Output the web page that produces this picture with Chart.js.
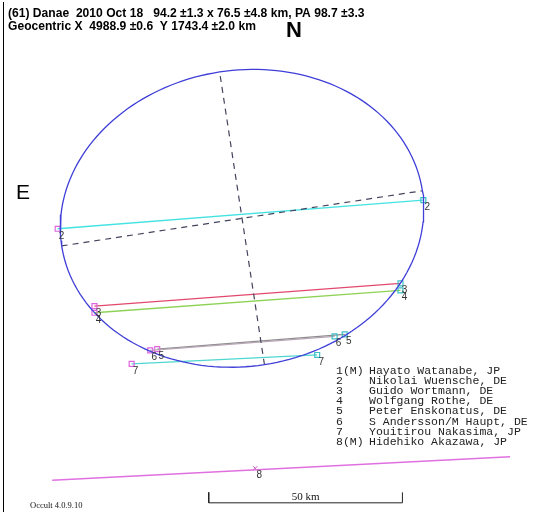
<!DOCTYPE html>
<html>
<head>
<meta charset="utf-8">
<script src="https://cdn.jsdelivr.net/npm/chart.js@4.4.1/dist/chart.umd.min.js"></script>
<style>
  html, body { margin: 0; padding: 0; background: #fff; }
  canvas { display: block; }
</style>
</head>
<body>
<canvas id="profile" width="538" height="517"></canvas>
<script>
// fitted profile (km, PA in degrees)
const majorKm = 94.2;
const minorKm = 76.5;
const positionAngle = 98.7;

// chords in km relative to the centre of the fitted ellipse (x to the right, y up)
const chordIds = ['2', '3', '4', '6', '5', '7'];
const chordStartX = [-47.6, -38.1, -38.1, -23.7, -21.9, -28.5];
const chordStartY = [-2.7, -22.7, -24.4, -34.1, -33.8, -37.6];
const chordEndX = [46.8, 40.9, 40.9, 23.9, 26.5, 19.4];
const chordEndY = [4.7, -16.8, -18.6, -30.5, -30.0, -35.3];
const chordColors = ['#45e2e2', '#e2486e', '#8ed255', '#b6a6b6', '#8c8c8c', '#4fd6d0'];

// miss chord of observer 8
const missX = [-49.0, 69.2];
const missY = [-67.7, -61.6];
const missMarkX = [3.4];
const missMarkY = [-64.6];

// observers listed at the right
const observerIds = ['1(M)', '2', '3', '4', '5', '6', '7', '8(M)'];
const observerNames = [
  'Hayato Watanabe, JP',
  'Nikolai Wuensche, DE',
  'Guido Wortmann, DE',
  'Wolfgang Rothe, DE',
  'Peter Enskonatus, DE',
  'S Andersson/M Haupt, DE',
  'Youitirou Nakasima, JP',
  'Hidehiko Akazawa, JP'
];

const scaleBarKm = 50;

// ellipse outline and its axes from the fitted values
const a = majorKm / 2, b = minorKm / 2;
const tilt = (positionAngle - 90) * Math.PI / 180;
const outline = [];
for (let deg = 0; deg <= 360; deg += 2) {
  const t = deg * Math.PI / 180;
  outline.push({
    x: a * Math.cos(t) * Math.cos(tilt) - b * Math.sin(t) * Math.sin(tilt),
    y: a * Math.cos(t) * Math.sin(tilt) + b * Math.sin(t) * Math.cos(tilt)
  });
}
const majorAxis = [
  { x: -a * Math.cos(tilt), y: -a * Math.sin(tilt) },
  { x: a * Math.cos(tilt), y: a * Math.sin(tilt) }
];
const minorAxis = [
  { x: b * Math.sin(tilt), y: -b * Math.cos(tilt) },
  { x: -b * Math.sin(tilt), y: b * Math.cos(tilt) }
];

const barX0 = -8.6, barY = -73.5, tick = 2.7;

const datasets = [
  { data: outline, borderColor: '#3f3fd8', borderWidth: 1.3, showLine: true, pointRadius: 0 },
  { data: majorAxis, borderColor: '#44445e', borderWidth: 1.2, borderDash: [6, 5], showLine: true, pointRadius: 0 },
  { data: minorAxis, borderColor: '#44445e', borderWidth: 1.2, borderDash: [6, 5], showLine: true, pointRadius: 0 }
];
chordIds.forEach((id, i) => {
  datasets.push({
    data: [{ x: chordStartX[i], y: chordStartY[i] }, { x: chordEndX[i], y: chordEndY[i] }],
    borderColor: chordColors[i],
    borderWidth: 1.3,
    showLine: true,
    pointStyle: 'rect',
    pointRadius: 3.5,
    pointBorderWidth: 1.2,
    pointBorderColor: ['#dd66dd', '#3cc0c8'],
    pointBackgroundColor: 'rgba(0,0,0,0)'
  });
});
datasets.push({
  data: missX.map((v, i) => ({ x: v, y: missY[i] })),
  borderColor: '#e070e0', borderWidth: 1.5, showLine: true, pointRadius: 0
});
datasets.push({
  data: missMarkX.map((v, i) => ({ x: v, y: missMarkY[i] })),
  pointStyle: 'crossRot', pointRadius: 3, pointBorderColor: '#c050c0', pointBorderWidth: 1
});
datasets.push({
  data: [
    { x: barX0, y: barY + tick }, { x: barX0, y: barY },
    { x: barX0 + scaleBarKm, y: barY }, { x: barX0 + scaleBarKm, y: barY + tick }
  ],
  borderColor: '#222', borderWidth: 1, showLine: true, pointRadius: 0
});

const overlay = {
  id: 'overlay',
  afterDatasetsDraw(chart) {
    const { ctx, scales: { x, y } } = chart;
    ctx.save();
    ctx.fillStyle = '#333';
    ctx.font = '10px "Liberation Sans"';
    ctx.textAlign = 'center';
    ctx.textBaseline = 'middle';
    chordIds.forEach((id, i) => {
      ctx.fillText(id, x.getPixelForValue(chordStartX[i]) + 4, y.getPixelForValue(chordStartY[i]) + 7);
      ctx.fillText(id, x.getPixelForValue(chordEndX[i]) + 4, y.getPixelForValue(chordEndY[i]) + 7);
    });
    ctx.fillText('8', x.getPixelForValue(missMarkX[0]) + 4, y.getPixelForValue(missMarkY[0]) + 7);

    // scale bar label
    ctx.fillStyle = '#111';
    ctx.font = '11px "Liberation Serif"';
    ctx.textBaseline = 'alphabetic';
    ctx.fillText(scaleBarKm + ' km', x.getPixelForValue(barX0 + scaleBarKm / 2), y.getPixelForValue(barY) - 3);

    ctx.textAlign = 'left';
    ctx.font = '8.5px "Liberation Serif"';
    ctx.fillText('Occult 4.0.9.10', 30, 508);

    // header
    ctx.fillStyle = '#000';
    ctx.font = 'bold 12.1px "Liberation Sans"';
    ctx.fillText('(61) Danae  2010 Oct 18   94.2 \u00b11.3 x 76.5 \u00b14.8 km, PA 98.7 \u00b13.3', 8, 17);
    ctx.fillText('Geocentric X  4988.9 \u00b10.6  Y 1743.4 \u00b12.0 km', 8, 30);
    ctx.font = 'bold 22px "Liberation Sans"';
    ctx.fillText('N', 286, 37);
    ctx.font = '21px "Liberation Sans"';
    ctx.fillText('E', 16, 199);

    // observer list
    ctx.fillStyle = '#222';
    ctx.font = '11.5px "Liberation Mono"';
    const rows = [374, 384, 394, 404, 414, 425, 435, 445];
    observerIds.forEach((id, i) => {
      ctx.fillText(id, 336, rows[i]);
      ctx.fillText(observerNames[i], 369, rows[i]);
    });

    // frame line on the left
    ctx.strokeStyle = '#000';
    ctx.lineWidth = 1;
    ctx.beginPath();
    ctx.moveTo(3.5, 2);
    ctx.lineTo(3.5, 512);
    ctx.stroke();
    ctx.restore();
  }
};

new Chart(document.getElementById('profile'), {
  type: 'scatter',
  data: { datasets: datasets },
  options: {
    responsive: false,
    animation: false,
    layout: { padding: 0 },
    plugins: { legend: { display: false }, tooltip: { enabled: false } },
    scales: {
      x: { type: 'linear', display: false, min: -61.14, max: 75.06 },
      y: { type: 'linear', display: false, min: -75.82, max: 55.06 }
    }
  },
  plugins: [overlay]
});
</script>
</body>
</html>
